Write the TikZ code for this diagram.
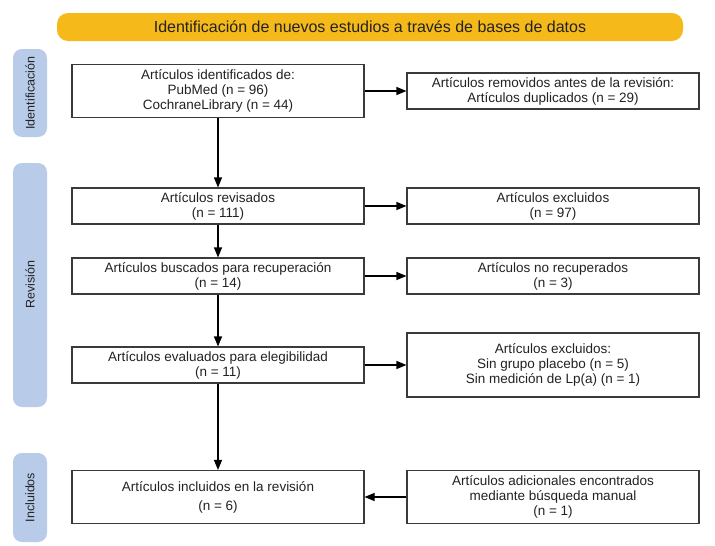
\documentclass[tikz,border=0pt]{standalone}
\usepackage{fontspec}
\setmainfont{Liberation Sans}
\usetikzlibrary{arrows.meta}
\definecolor{barYellow}{HTML}{F6B91A}
\definecolor{tabBlue}{HTML}{B8CCEA}
\definecolor{edgeGray}{HTML}{3A3A3A}
\definecolor{txtGray}{HTML}{222222}
\tikzset{
  flowbox/.style={draw=edgeGray, line width=1.1pt, fill=white, align=center,
    inner sep=1pt, text=txtGray, font=\fontsize{13.5}{15}\selectfont, minimum width=292pt},
  sidetab/.style={fill=tabBlue, rounded corners=9pt, rotate=90, minimum height=34pt,
    text=txtGray, font=\fontsize{12.5}{14}\selectfont, inner sep=0pt},
  headbar/.style={fill=barYellow, rounded corners=11pt, minimum width=626pt, minimum height=28pt,
    text=txtGray, font=\fontsize{16}{18}\selectfont},
  flowarrow/.style={draw=black, line width=1.1pt, -{Triangle[length=10pt,width=8pt]}}
}
\begin{document}
\begin{tikzpicture}[x=1pt,y=-1pt]
\useasboundingbox[fill=white] (0,0) rectangle (715,546);
\node[headbar] (head) at (370,27) {Identificación de nuevos estudios a través de bases de datos};
\node[sidetab, minimum width=88pt] (tid) at (30,93) {Identificación};
\node[sidetab, minimum width=244pt] (trev) at (30,285) {Revisión};
\node[sidetab, minimum width=89pt] (tinc) at (30,497.5) {Incluidos};

\node[flowbox, minimum height=53pt] (b1) at (218,91) {Artículos identificados de:\\PubMed (n = 96)\\CochraneLibrary (n = 44)};
\node[flowbox, minimum height=36pt] (b2) at (218,206) {Artículos revisados\\(n = 111)};
\node[flowbox, minimum height=36pt] (b3) at (218,276) {Artículos buscados para recuperación\\(n = 14)};
\node[flowbox, minimum height=36pt] (b4) at (218,365) {Artículos evaluados para elegibilidad\\(n = 11)};
\node[flowbox, minimum height=53pt, font=\fontsize{13.5}{19}\selectfont] (b5) at (218,497) {Artículos incluidos en la revisión\\(n = 6)};

\node[flowbox, minimum height=36pt] (r1) at (553,91) {Artículos removidos antes de la revisión:\\Artículos duplicados (n = 29)};
\node[flowbox, minimum height=36pt] (r2) at (553,206) {Artículos excluidos\\(n = 97)};
\node[flowbox, minimum height=36pt] (r3) at (553,276) {Artículos no recuperados\\(n = 3)};
\node[flowbox, minimum height=64pt] (r4) at (553,365) {Artículos excluidos:\\Sin grupo placebo (n = 5)\\Sin medición de Lp(a) (n = 1)};
\node[flowbox, minimum height=53pt] (r5) at (553,497) {Artículos adicionales encontrados\\mediante búsqueda manual\\(n = 1)};

\draw[flowarrow] (b1.south) -- (b2.north);
\draw[flowarrow] (b2.south) -- (b3.north);
\draw[flowarrow] (b3.south) -- (b4.north);
\draw[flowarrow] (b4.south) -- (b5.north);
\draw[flowarrow] (b1.east) -- (r1.west);
\draw[flowarrow] (b2.east) -- (r2.west);
\draw[flowarrow] (b3.east) -- (r3.west);
\draw[flowarrow] (b4.east) -- (r4.west);
\draw[flowarrow] (r5.west) -- (b5.east);
\end{tikzpicture}
\end{document}
